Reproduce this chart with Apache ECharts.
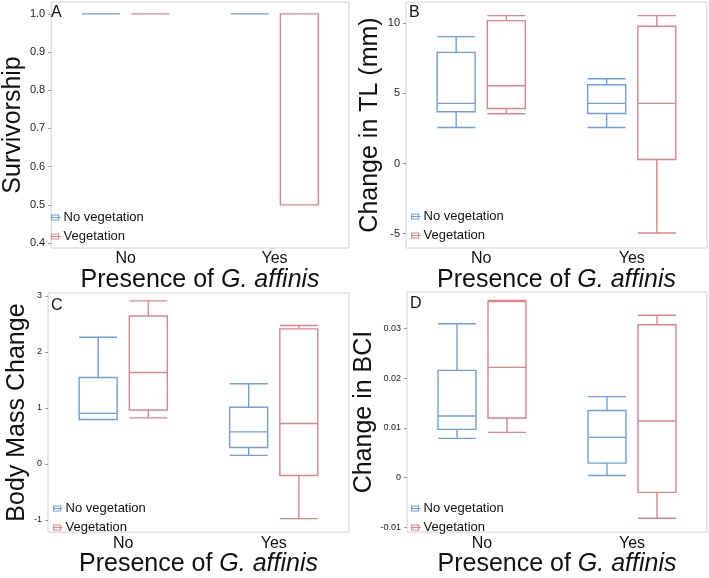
<!DOCTYPE html>
<html><head><meta charset="utf-8">
<script src="https://cdn.jsdelivr.net/npm/echarts@6/dist/echarts.min.js"></script>
<style>html,body{margin:0;padding:0;background:#fff}#c{width:709px;height:578px}</style>
</head><body><div id="c"></div>
<script>
// Category and series names
const categories = ['No', 'Yes'];
const seriesNames = ['No vegetation', 'Vegetation'];
// Five-number summaries [min, Q1, median, Q3, max], one per category
const survNoVeg = [[1, 1, 1, 1, 1], [1, 1, 1, 1, 1]];
const survVeg = [[1, 1, 1, 1, 1], [0.5, 0.5, 1, 1, 1]];
const tlNoVeg = [[2.57, 3.69, 4.29, 7.93, 9.05], [2.57, 3.57, 4.29, 5.62, 6.05]];
const tlVeg = [[3.55, 3.93, 5.55, 10.19, 10.55], [-4.95, 0.29, 4.29, 9.79, 10.55]];
const massNoVeg = [[0.79, 0.79, 0.90, 1.54, 2.26], [0.15, 0.29, 0.57, 1.01, 1.43]];
const massVeg = [[0.82, 0.96, 1.63, 2.64, 2.91], [-0.98, -0.21, 0.72, 2.41, 2.47]];
const bciNoVeg = [[0.0079, 0.0097, 0.0124, 0.0216, 0.0310], [0.0004, 0.0029, 0.0081, 0.0135, 0.0163]];
const bciVeg = [[0.0091, 0.0120, 0.0222, 0.0355, 0.0357], [-0.0082, -0.0030, 0.0114, 0.0308, 0.0327]];
// Tick labels
const survTicks = [0.4, 0.5, 0.6, 0.7, 0.8, 0.9, 1.0];
const tlTicks = [-5, 0, 5, 10];
const massTicks = [-1, 0, 1, 2, 3];
const bciTicks = [-0.01, 0, 0.01, 0.02, 0.03];

const BLUE = '#6f9fe0';
const RED = '#e0838c';
const COLORS = [BLUE, RED];
const FONT = 'Liberation Sans, Arial, sans-serif';

const panels = [
  {grid: {left: 48, top: 2, width: 301, height: 246}, letter: 'A', letterPos: [51, 5],
   yName: 'Survivorship', nameGap: 24, labelSize: 11, min: 0.387, max: 1.031,
   ticks: survTicks, fmt: v => v.toFixed(1), blue: survNoVeg, red: survVeg, legend: [51, 211]},
  {grid: {left: 406, top: 2, width: 301, height: 246}, letter: 'B', letterPos: [409, 5],
   yName: 'Change in TL (mm)', nameGap: 23, labelSize: 11, min: -6.02, max: 11.52,
   ticks: tlTicks, fmt: v => String(v), blue: tlNoVeg, red: tlVeg, legend: [411, 210]},
  {grid: {left: 48, top: 293, width: 301, height: 248}, letter: 'C', letterPos: [51, 298],
   yName: 'Body Mass Change', nameGap: 9, labelSize: 9, min: -1.22, max: 3.05,
   ticks: massTicks, fmt: v => String(v), blue: massNoVeg, red: massVeg, legend: [53, 502]},
  {grid: {left: 407, top: 292, width: 300, height: 247}, letter: 'D', letterPos: [410, 296],
   yName: 'Change in BCI', nameGap: 29, labelSize: 9, min: -0.011, max: 0.0374,
   ticks: bciTicks, fmt: v => String(v), blue: bciNoVeg, red: bciVeg, legend: [411, 502]}
];

const grid = [], xAxis = [], yAxis = [], series = [], legend = [], graphic = [];
const icon = 'path://M0,0H7V5H0Z M0,2.5H7 M7,2.5H9';

panels.forEach((p, i) => {
  grid.push(Object.assign({show: true, borderColor: '#d2d2d2', borderWidth: 1, backgroundColor: '#fff'}, p.grid));
  const catPos = categories.map((c, k) => k * 3 + 1.5);
  xAxis.push({
    type: 'value', gridIndex: i, min: 0, max: 6,
    axisLine: {show: false}, axisTick: {show: false}, splitLine: {show: false},
    axisLabel: {customValues: catPos, formatter: v => categories[Math.round((v - 1.5) / 3)],
      fontSize: 16, color: '#111', fontFamily: FONT, margin: 3},
    name: 'Presence of {i|G. affinis}', nameLocation: 'middle', nameGap: 18,
    nameTextStyle: {fontSize: 25, color: '#111', fontFamily: FONT,
      rich: {i: {fontSize: 25, fontStyle: 'italic', color: '#111', fontFamily: FONT}}}
  });
  xAxis.push({type: 'value', gridIndex: i, min: 0, max: 6, show: false});
  yAxis.push({
    type: 'value', gridIndex: i, min: p.min, max: p.max,
    axisLine: {show: false}, splitLine: {show: false},
    axisTick: {show: true, customValues: p.ticks, length: 3, lineStyle: {color: '#999'}},
    axisLabel: {customValues: p.ticks, formatter: p.fmt, fontSize: p.labelSize, color: '#222', fontFamily: FONT, margin: 6},
    name: p.yName, nameLocation: 'middle', nameGap: p.nameGap,
    nameTextStyle: {fontSize: 25, color: '#111', fontFamily: FONT}
  });
  [[p.blue, 0], [p.red, 1]].forEach(([vals, s]) => {
    series.push({
      type: 'boxplot', name: seriesNames[s], xAxisIndex: 2 * i + s, yAxisIndex: i,
      boxWidth: [38, 38],
      itemStyle: {color: '#fff', borderColor: COLORS[s], borderWidth: 1.4},
      data: vals.map((v, k) => [k * 3 + 1 + s].concat(v))
    });
  });
  legend.push({
    orient: 'vertical', left: p.legend[0], top: p.legend[1], padding: 0,
    itemWidth: 9, itemHeight: 5, itemGap: 6,
    data: seriesNames.map((n, s) => ({name: n, icon: icon,
      itemStyle: {color: '#fff', borderColor: COLORS[s], borderWidth: 1.2}})),
    textStyle: {fontSize: 13, color: '#111', fontFamily: FONT, padding: [0, 0, 0, -2]}
  });
  graphic.push({type: 'text', left: p.letterPos[0], top: p.letterPos[1],
    style: {text: p.letter, fontSize: 16, fill: '#111', fontFamily: FONT}, z: 100});
});

const chart = echarts.init(document.getElementById('c'));
chart.setOption({animation: false, grid, xAxis, yAxis, series, legend, graphic, tooltip: {show: false}});
</script></body></html>
